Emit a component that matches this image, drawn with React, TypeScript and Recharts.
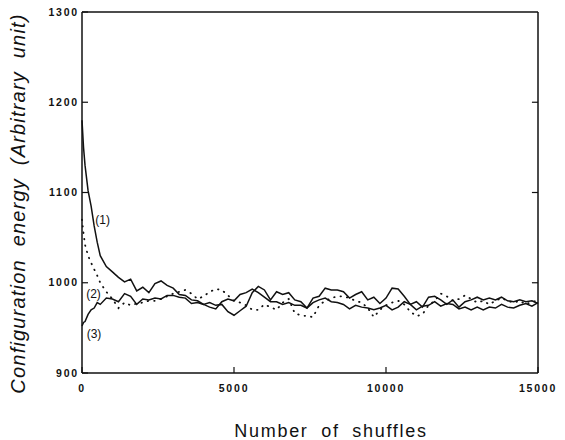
import { LineChart, Line, XAxis, YAxis, ReferenceDot, ReferenceLine } from "recharts";

// shuffle counts (x) shared by the three runs
const shuffles = [
  0, 50, 100, 200, 300, 400, 500, 600, 800,
  1000, 1200, 1400, 1600, 1800, 2000, 2200, 2400, 2600, 2800,
  3000, 3200, 3400, 3600, 3800, 4000, 4200, 4400, 4600, 4800,
  5000, 5200, 5400, 5600, 5800, 6000, 6200, 6400, 6600, 6800,
  7000, 7200, 7400, 7600, 7800, 8000, 8200, 8400, 8600, 8800,
  9000, 9200, 9400, 9600, 9800, 10000, 10200, 10400, 10600, 10800,
  11000, 11200, 11400, 11600, 11800, 12000, 12200, 12400, 12600, 12800,
  13000, 13200, 13400, 13600, 13800, 14000, 14200, 14400, 14600, 14800,
  15000,
];

// run (1): starts high and decays
const energy1 = [
  1180, 1150, 1130, 1102, 1085, 1063, 1045, 1030, 1018,
  1012, 1006, 1001, 1004, 991, 995, 989, 999, 1002, 997,
  994, 987, 986, 981, 980, 976, 978, 975, 976, 968,
  964, 969, 974, 989, 996, 992, 981, 990, 987, 989,
  981, 979, 972, 983, 985, 994, 992, 992, 990, 983,
  987, 990, 981, 984, 977, 983, 994, 993, 985, 976,
  979, 973, 984, 985, 981, 976, 981, 973, 979, 981,
  984, 981, 983, 981, 984, 980, 979, 981, 979, 980,
  977,
];

// run (2): dotted
const energy2 = [
  1070, 1055, 1042, 1030, 1022, 1015, 1008, 1000, 990,
  982, 972, 978, 975, 977, 978, 980, 980, 982, 985,
  988, 990, 992, 988, 982, 985, 990, 993, 992, 986,
  980, 978, 975, 970, 970, 976, 973, 970, 978, 982,
  966, 964, 963, 962, 975, 980, 983, 985, 985, 983,
  980, 978, 972, 962, 970, 975, 978, 980, 976, 968,
  963, 965, 975, 980, 988, 985, 980, 982, 986, 982,
  978, 980, 976, 980, 983, 980, 978, 980, 976, 979,
  980,
];

// run (3): starts low and rises
const energy3 = [
  952, 956, 957, 965, 970, 972, 978, 976, 983,
  982, 979, 988, 985, 976, 982, 981, 983, 982, 986,
  986, 984, 983, 977, 978, 976, 973, 971, 979, 982,
  980, 987, 989, 993, 989, 984, 979, 979, 976, 978,
  975, 975, 972, 978, 981, 983, 979, 978, 976, 971,
  975, 973, 972, 970, 972, 975, 970, 973, 979, 976,
  970, 974, 975, 979, 974, 977, 976, 971, 973, 970,
  973, 970, 973, 972, 976, 973, 972, 975, 977, 974,
  978,
];

const xTicks = [0, 5000, 10000, 15000];
const yTicks = [900, 1000, 1100, 1200, 1300];

const curveLabels = [
  { text: "(1)", x: 680, y: 1070 },
  { text: "(2)", x: 380, y: 988 },
  { text: "(3)", x: 395, y: 943 },
];

const data = shuffles.map((n, i) => ({
  n,
  e1: energy1[i],
  e2: energy2[i],
  e3: energy3[i],
}));

const ink = "#111";
const sans = '"Liberation Sans", Arial, Helvetica, sans-serif';
const tickStyle = {
  fill: ink,
  fontSize: 10.5,
  fontWeight: 700,
  fontFamily: sans,
  letterSpacing: 1.8,
};

export default function App() {
  return (
    <div style={{ position: "absolute", left: 0, top: 0, width: 565, height: 440, background: "#fff" }}>
      <LineChart
        width={565}
        height={440}
        data={data}
        margin={{ top: 12, right: 27, bottom: 0, left: 0 }}
      >
        <XAxis
          dataKey="n"
          type="number"
          domain={[0, 15000]}
          ticks={xTicks}
          height={67}
          tickSize={-6}
          tickMargin={18}
          tick={tickStyle}
          axisLine={{ stroke: ink, strokeWidth: 1.5 }}
          tickLine={{ stroke: ink, strokeWidth: 1.2 }}
          label={{
            value: "Number of shuffles",
            position: "center",
            dx: 21,
            dy: 24,
            style: {
              fill: ink,
              fontSize: 18,
              fontFamily: sans,
              letterSpacing: "1.7px",
              wordSpacing: "6px",
            },
          }}
        />
        <YAxis
          type="number"
          domain={[900, 1300]}
          ticks={yTicks}
          width={82}
          tickSize={-6}
          tickMargin={9}
          tick={tickStyle}
          axisLine={{ stroke: ink, strokeWidth: 1.5 }}
          tickLine={{ stroke: ink, strokeWidth: 1.2 }}
          label={{
            value: "Configuration energy (Arbitrary unit)",
            position: "center",
            angle: -90,
            dx: -23,
            dy: 11,
            style: {
              fill: ink,
              fontSize: 20,
              fontStyle: "italic",
              fontFamily: sans,
              letterSpacing: "1.2px",
              wordSpacing: "6px",
            },
          }}
        />
        {/* frame: top and right edges, with inward ticks on the right */}
        <ReferenceLine y={1300} stroke={ink} strokeWidth={1.5} ifOverflow="visible" />
        <ReferenceLine x={15000} stroke={ink} strokeWidth={1.5} ifOverflow="visible" />
        {yTicks.slice(1, -1).map((t) => (
          <ReferenceLine
            key={t}
            segment={[{ x: 14800, y: t }, { x: 15000, y: t }]}
            stroke={ink}
            strokeWidth={1.2}
            ifOverflow="visible"
          />
        ))}
        <Line
          dataKey="e2"
          type="linear"
          stroke={ink}
          strokeWidth={1.8}
          strokeDasharray="0.5 6"
          strokeLinecap="round"
          dot={false}
          isAnimationActive={false}
        />
        <Line
          dataKey="e3"
          type="linear"
          stroke={ink}
          strokeWidth={1.5}
          dot={false}
          isAnimationActive={false}
        />
        <Line
          dataKey="e1"
          type="linear"
          stroke={ink}
          strokeWidth={1.5}
          dot={false}
          isAnimationActive={false}
        />
        {curveLabels.map((c) => (
          <ReferenceDot
            key={c.text}
            x={c.x}
            y={c.y}
            r={0}
            fill="none"
            stroke="none"
            label={{
              value: c.text,
              position: "center",
              style: { fill: ink, fontSize: 12, fontFamily: sans },
            }}
          />
        ))}
      </LineChart>
    </div>
  );
}
